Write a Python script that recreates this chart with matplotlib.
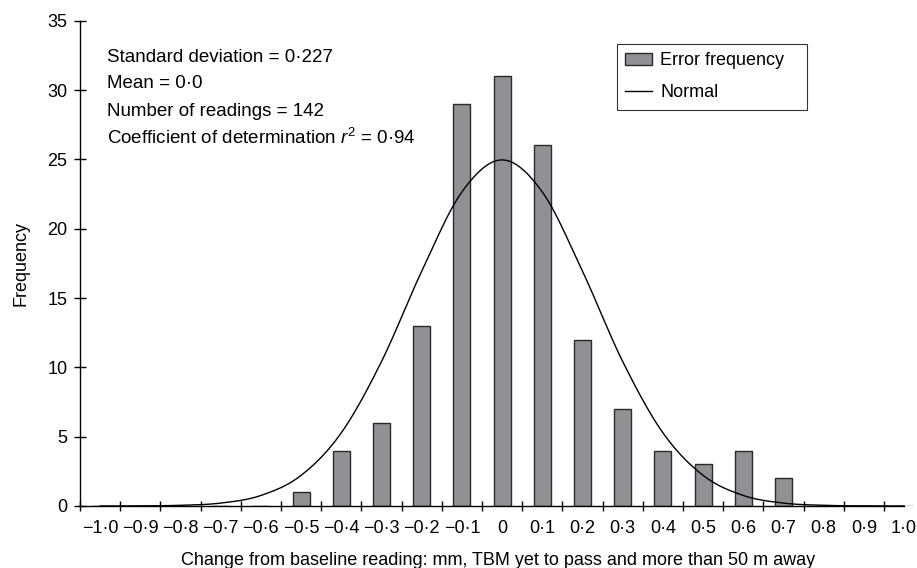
import numpy as np
from matplotlib import pyplot as plt
from matplotlib.patches import Patch
from matplotlib.lines import Line2D

plt.rcParams['font.family'] = ['Liberation Sans', 'DejaVu Sans']
plt.rcParams['mathtext.fontset'] = 'custom'
plt.rcParams['mathtext.rm'] = 'Liberation Sans'
plt.rcParams['mathtext.it'] = 'Liberation Sans:italic'

# bin labels (mm)
bins = ["\u22121\u00b70", "\u22120\u00b79", "\u22120\u00b78", "\u22120\u00b77", "\u22120\u00b76",
        "\u22120\u00b75", "\u22120\u00b74", "\u22120\u00b73", "\u22120\u00b72", "\u22120\u00b71",
        "0", "0\u00b71", "0\u00b72", "0\u00b73", "0\u00b74", "0\u00b75",
        "0\u00b76", "0\u00b77", "0\u00b78", "0\u00b79", "1\u00b70"]

# observed error frequency per bin
error_freq = [0, 0, 0, 0, 0, 1, 4, 6, 13, 29, 31, 26, 12, 7, 4, 3, 4, 2, 0, 0, 0]

# fitted normal curve value at each bin
normal_vals = [0.00, 0.01, 0.05, 0.21, 0.76, 2.21, 5.28, 10.42, 16.93, 22.65, 24.96,
               22.65, 16.93, 10.42, 5.28, 2.21, 0.76, 0.21, 0.05, 0.01, 0.00]

stats_lines = ["Standard deviation = 0\u00b7227",
               "Mean = 0\u00b70",
               "Number of readings = 142",
               "Coefficient of determination $r^2$ = 0\u00b794"]


def smooth(y, n=20):
    # catmull-rom smoothing, like a spreadsheet "smoothed line"
    y = np.asarray(y, dtype=float)
    p = np.concatenate([[y[0]], y, [y[-1]]])
    xs, ys = [], []
    t = np.linspace(0, 1, n, endpoint=False)
    for i in range(len(y) - 1):
        p0, p1, p2, p3 = p[i], p[i + 1], p[i + 2], p[i + 3]
        seg = 0.5 * ((2 * p1) + (-p0 + p2) * t + (2 * p0 - 5 * p1 + 4 * p2 - p3) * t ** 2
                     + (-p0 + 3 * p1 - 3 * p2 + p3) * t ** 3)
        xs.extend(i + t)
        ys.extend(seg)
    xs.append(len(y) - 1)
    ys.append(y[-1])
    return np.array(xs), np.array(ys)


fig = plt.figure(figsize=(9.17, 5.68), dpi=100)
ax = fig.add_axes([80 / 917, 62 / 568, 837 / 917, 485.3 / 568])

pos = np.arange(len(bins))
bar_color = "#909095"
ax.bar(pos, error_freq, width=0.42, color=bar_color, edgecolor="#2a2a2a", linewidth=1.0, zorder=2)

cx, cy = smooth(normal_vals)
ax.plot(cx, cy, color="black", linewidth=1.0, zorder=3)

ax.set_xlim(-0.5, -0.5 + 837 / 40.2)
ax.set_ylim(0, 35)

for s in ["top", "right"]:
    ax.spines[s].set_visible(False)
ax.spines["bottom"].set_bounds(-0.5, 20)
ax.spines["left"].set_linewidth(1.0)
ax.spines["bottom"].set_linewidth(1.0)

ax.set_xticks(np.arange(-0.5, 19.6, 1.0))
ax.set_xticklabels([])
ax.set_xticks(pos, minor=True)
ax.set_xticklabels(bins, minor=True, fontsize=13)
ax.tick_params(axis="x", which="major", direction="inout", length=7.5, width=1.0)
ax.tick_params(axis="x", which="minor", length=0, pad=10)

ax.set_yticks(np.arange(0, 36, 5))
ax.tick_params(axis="y", direction="inout", length=8, width=1.0, labelsize=13, pad=5)

ax.set_ylabel("Frequency", fontsize=13, labelpad=13)
ax.set_xlabel("Change from baseline reading: mm, TBM yet to pass and more than 50 m away",
              fontsize=13, labelpad=11)

for i, line in enumerate(stats_lines):
    fig.text(107 / 917, 1 - (57 + 27 * i) / 568, line, fontsize=13.5, va="center", ha="left")

handles = [Patch(facecolor=bar_color, edgecolor="#2a2a2a", linewidth=1.0),
           Line2D([], [], color="black", linewidth=1.0)]
leg = ax.legend(handles, ["Error frequency", "Normal"], loc="upper left", mode="expand",
                bbox_to_anchor=(617 / 917, 1 - 108 / 568, 190 / 917, 64 / 568),
                bbox_transform=fig.transFigure,
                fontsize=13, frameon=True, fancybox=False, edgecolor="black",
                borderpad=0.45, labelspacing=0.85, handlelength=1.5, handleheight=0.65,
                handletextpad=0.45, borderaxespad=0)
leg.get_frame().set_linewidth(0.8)

fig.savefig("out.png", dpi=100)
